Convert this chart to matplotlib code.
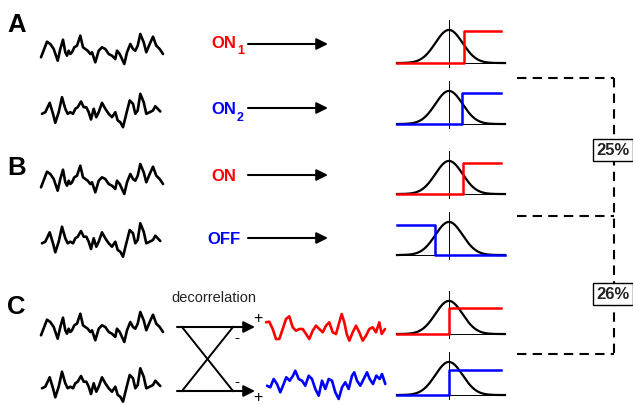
import numpy as np
import matplotlib
matplotlib.use("Agg")
import matplotlib.pyplot as plt

plt.rcParams['font.family'] = ['Liberation Sans', 'DejaVu Sans']

# input signal 1 (rows A1, B1, C1): time (px) and amplitude (px)
t1 = [0, 6, 9.3, 12.7, 16.7, 19.3, 22, 24.3, 26, 27.7, 29.3, 31, 33.3, 36, 39.3, 42, 44.3,
      46.7, 49.3, 51, 54.3, 57.7, 61, 64.3, 67.7, 71, 74.3, 76, 78.7, 81, 83.3, 86, 89.3,
      92, 94.3, 96.7, 99.3, 102.7, 105.3, 108.7, 112, 115.3, 118.7, 122]
v1 = [-8.3, 7.3, 5, 0, -11.7, 0, 9.3, -3.3, -6.7, -1.7, -5, -3.3, 1.7, 3.3, 13.3, 1.7, 0,
      -1.7, -5, -3.3, -13.3, -1.7, 1.7, 0, -5, -6.7, -10, -1.7, -5, -10, -15, -3.3, 5,
      0, -1.7, 3.3, 15, 6.7, -3.3, 5, 12.3, 3.3, 0, -5]

# input signal 2 (rows A2, B2, C2)
t2 = [1, 4.3, 8.7, 12, 14.3, 17.7, 21, 24.3, 26.7, 29.3, 32, 34.3, 36.7, 40, 42.7, 45.3,
      47.7, 50, 52.7, 55.3, 57.7, 61, 64.3, 67.7, 71, 74.3, 76.7, 79.3, 82, 85.3, 88.7,
      92, 94.3, 96.7, 99.3, 102.7, 105.3, 108.7, 112, 114.3, 116.7, 119.3]
v2 = [-3.3, -1.7, 7.7, -3.3, -12.3, -1.7, 13.3, 1.7, -3.3, -1.7, -3.3, 1.7, 3.3, 9, 3.3, 3.3,
      -1.7, -9, 1.7, -6.7, -1.7, 7.7, 1.7, -3.3, -6.7, -1.7, -10, -11.7, -16.7, -3.3, 10,
      6.7, -3.3, 0, 16.7, 8.3, -3.3, -1.7, 0, 4.3, 1.7, -1]

# decorrelated outputs (row C)
t_red = [0, 3.3, 6.7, 10, 13.3, 16.7, 20, 23.3, 26.7, 30, 33.3, 36.7, 40, 43.3, 46.7, 50,
         53.3, 56.7, 60, 63.3, 66.7, 70, 73.3, 75.7, 78.3, 80.7, 83.3, 86.7, 90, 93.3, 96.7,
         100, 103.3, 106.7, 110, 113.3, 115.7, 119]
v_red = [6.7, 7.3, 0, -10, -10, 0, 10, 12.7, 1.7, -1.7, 0, 0, -5, -10, -1.7, 3.3,
         0, -3.3, 3.3, 6.7, -3.3, -5, 6.7, 15, 6.7, -5, -11.7, -3.3, 3.3, -3.3, -11.7,
         -6.7, 0, 1.7, -3.3, 6.7, -5, 0]
t_blue = [0, 3.3, 6.7, 10, 13.3, 16, 19.3, 22.7, 26, 28.3, 31.7, 35, 38.3, 41.7, 45, 48.3,
          51.7, 55, 58.3, 61.7, 65, 68.3, 71.7, 75, 78.3, 81.7, 85, 87.3, 90, 93.3, 96.7,
          100, 102.7, 106, 109.3, 112.7, 115, 118.3]
v_blue = [-1.7, -3.3, 5, 0, -8.3, -1.7, 6.7, 3.3, 8.3, 13.3, 5, 3.3, -1.7, 8.3, 5, -5,
          -11.7, 3.3, -5, 5, 3.3, -8.3, -15, -3.3, 1.7, -5, 8.3, 11.7, 3.3, -1.7, 5,
          11.7, 5, 0, 8.3, 5, 10, 0]

# threshold (in SD units) and response level (fraction of peak) for each output row
thresholds = [1.1, 0.95, 1.0, -1.0, 0.0, 0.0]
levels = [0.97, 0.94, 0.94, 0.91, 0.79, 0.76]
step_colors = ['red', 'blue', 'red', 'blue', 'red', 'blue']
step_off = [False, False, False, True, False, False]

W, H = 633, 406
fig = plt.figure(figsize=(W / 100, H / 100), dpi=100)
main = fig.add_axes([0, 0, 1, 1])
main.set_xlim(0, W)
main.set_ylim(H, 0)
main.set_axis_off()


def px_axes(x0, y0, x1, y1):
    ax = fig.add_axes([x0 / W, 1 - y1 / H, (x1 - x0) / W, (y1 - y0) / H])
    ax.set_axis_off()
    return ax


def trace(t, v, x0, yc, color='black'):
    ax = px_axes(x0, yc - 20, x0 + 125, yc + 20)
    ax.plot(t, v, color=color, lw=1.9, solid_joinstyle='round', solid_capstyle='round',
            clip_on=False)
    ax.set_xlim(0, 125)
    ax.set_ylim(-20, 20)


def panel(yb, thr, level, color, off):
    ax = px_axes(397, yb - 43, 505, yb + 5)
    lo, hi = -3.82, 4.12
    ax.set_xlim(lo, hi)
    ax.set_ylim(-0.15, 1.3)
    ax.axhline(0, color='black', lw=0.7)
    ax.axvline(0, color='black', lw=0.7)
    xs = np.linspace(lo, hi, 200)
    ax.plot(xs, np.exp(-xs ** 2 / 2), color='black', lw=1.6, clip_on=False)
    right = 3.82
    if off:
        ax.plot([lo, thr, thr, hi], [level, level, 0, 0], color=color, lw=1.8, clip_on=False)
    else:
        ax.plot([lo, thr, thr, right], [0, 0, level, level], color=color, lw=1.8, clip_on=False)


# input traces
for yc in (50, 180, 328):
    trace(t1, v1, 41, yc)
for yc in (111.5, 241, 386):
    trace(t2, v2, 41, yc)
trace(t_red, v_red, 266, 330, 'red')
trace(t_blue, v_blue, 267, 385, 'blue')

# output nonlinearities
for yb, thr, lev, col, off in zip([64, 125, 195, 256, 335, 396], thresholds, levels,
                                   step_colors, step_off):
    panel(yb, thr, lev, col, off)

# panel letters
for lab, y in (('A', 25), ('B', 168), ('C', 307)):
    main.text(7, y, lab, fontsize=18.5, fontweight='bold', va='center', ha='left')

# cell type labels
lab = dict(fontsize=12, fontweight='bold', va='center')
main.text(211, 43, 'ON', color='red', **lab)
main.text(237, 51, '1', color='red', fontsize=9, fontweight='bold', va='center')
main.text(211, 110, 'ON', color='blue', **lab)
main.text(237, 118, '2', color='blue', fontsize=9, fontweight='bold', va='center')
main.text(211, 177, 'ON', color='red', **lab)
main.text(207, 240, 'OFF', color='blue', **lab)

arrow = dict(arrowstyle='-|>', mutation_scale=17, lw=1.5, color='black',
             shrinkA=0, shrinkB=0)
for y in (45, 109, 176, 239):
    main.annotate('', xy=(328, y), xytext=(248, y), arrowprops=arrow)

# decorrelation cross
main.text(214, 298, 'decorrelation', fontsize=10.5, ha='center', va='center', color='#222222')
main.annotate('', xy=(255, 328), xytext=(177, 328), arrowprops=arrow)
main.annotate('', xy=(255, 392), xytext=(177, 392), arrowprops=arrow)
main.plot([182, 233], [328, 392], color='black', lw=1.4)
main.plot([182, 233], [392, 328], color='black', lw=1.4)
main.text(258, 319, '+', fontsize=11.5, ha='center', va='center')
main.text(258, 398, '+', fontsize=11.5, ha='center', va='center')
main.text(237, 338, '-', fontsize=11, ha='center', va='center')
main.text(237, 382, '-', fontsize=11, ha='center', va='center')

# correlation brackets
dash = dict(color='black', lw=1.5, dashes=(4.5, 3))
for y in (79, 217, 355):
    main.plot([517, 614], [y, y], **dash)
main.plot([614, 614], [79, 358], **dash)
for y, s in ((151, '25%'), (295, '26%')):
    main.text(613, y, s, fontsize=12, fontweight='bold', ha='center', va='center',
              color='#222222',
              bbox=dict(boxstyle='square,pad=0.2', fc='white', ec='black', lw=1))

fig.savefig('out.png', dpi=100)
